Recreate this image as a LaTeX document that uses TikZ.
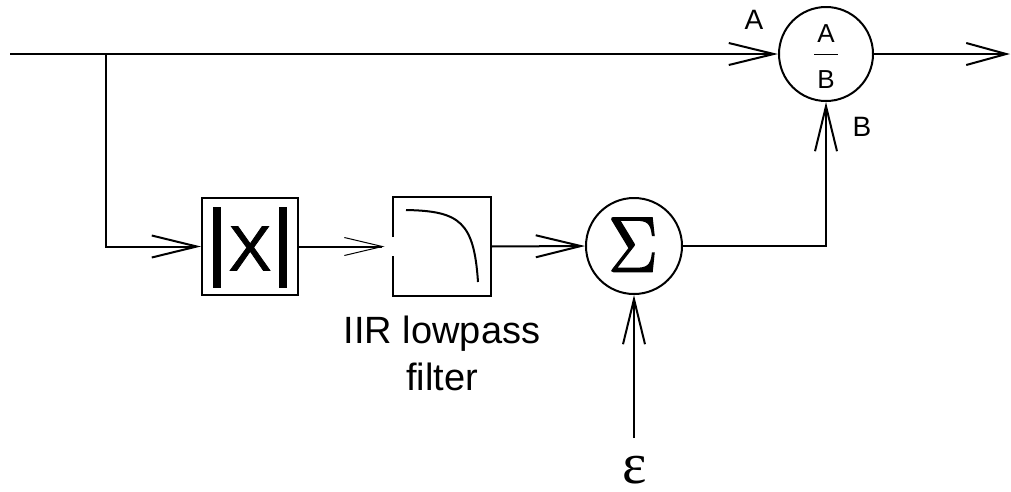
\documentclass[tikz,border=0pt]{standalone}
\usepackage[no-math]{fontspec}
\setmainfont{Liberation Sans}
\newfontfamily\greekserif{Liberation Serif}
\newfontfamily\sigmafont[FakeBold=1.6]{lmroman10-regular.otf}
\newfontfamily\heavysans[FakeBold=1.2]{Liberation Sans}
\usetikzlibrary{arrows.meta}

\begin{document}
\begin{tikzpicture}[x=1pt, y=-1pt, line width=2pt,
  sig/.style={-{Straight Barb[length=45pt,width=22pt]}},
  sigthin/.style={-{Straight Barb[length=38pt,width=18pt,line width=1pt]}},
  blockbox/.style={rectangle, minimum width=96pt, minimum height=97pt, inner sep=0pt},
  junction/.style={circle, draw, inner sep=0pt},
  lbl/.style={inner sep=0pt, font=\fontsize{28}{30}\selectfont}]
\useasboundingbox (0,0) rectangle (1011,491);

% signal path end points
\coordinate (in)  at (10,54);
\coordinate (tap) at (106,54);
\coordinate (out) at (1010,54);

% divider A/B
\node[junction, minimum size=94pt] (div) at (826,54) {};
\node[inner sep=0pt, font=\fontsize{26}{28}\selectfont] (numA) at (826,33.5) {A};
\node[inner sep=0pt, font=\fontsize{26}{28}\selectfont] (denB) at (826,80) {B};
\draw[line width=1pt] (814,54) -- (838,54);
\node[lbl] (labA) at (754,20) {A};
\node[lbl] (labB) at (862,127) {B};

% magnitude block |x|
\node[blockbox, draw] (abs) at (250,246.5) {};
\node[inner sep=0pt, font=\heavysans\fontsize{64}{66}\selectfont] (absx) at (250,248.5) {X};
\fill (213.3,207) rectangle (220.7,288);
\fill (279.3,207) rectangle (286.7,288);

% IIR lowpass block, left side open at the input
\node[blockbox] (lpf) at (441.5,246.5) {};
\draw ([yshift=9.5pt]lpf.west) -- (lpf.north west) -- (lpf.north east)
      -- (lpf.south east) -- (lpf.south west) -- ([yshift=-9.5pt]lpf.west);
\draw (406,210) .. controls (460,211) and (474,222) .. (478,282);
\node[inner sep=0pt, anchor=north, align=center,
      font=\fontsize{38}{47}\selectfont] (lpflabel) at (442,315) {IIR lowpass\\filter};

% summing junction
\node[junction, minimum size=96pt] (sum) at (634,246) {};
\node[inner sep=0pt, xscale=0.88, font=\sigmafont\fontsize{79}{81}\selectfont] (sigma) at (633,244.7) {Σ};

% epsilon input
\node[inner sep=0pt, font=\greekserif\fontsize{58}{60}\selectfont] (eps) at (634.5,470) {ε};

% connectors
\draw[sig] (in) -- (div.west);
\draw[sig] (tap) |- (abs.west);
\draw[sigthin] (abs.east) -- ([xshift=-8pt]lpf.west);
\draw[sig] (lpf.east) -- (sum.west);
\draw[sig] (sum.east) -| (div.south);
\draw[sig] (634,438) -- (sum.south);
\draw[-{Straight Barb[length=40pt,width=22pt]}] (div.east) -- (out);
\end{tikzpicture}
\end{document}
